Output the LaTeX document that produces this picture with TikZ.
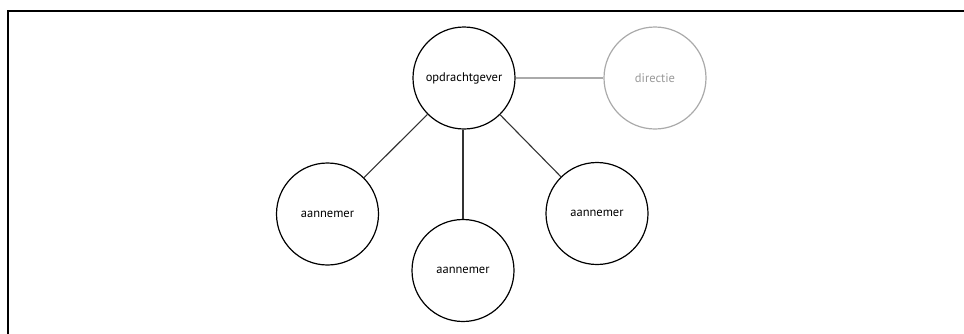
\documentclass[tikz,border=0pt]{standalone}
\usepackage{fontspec}
\setmainfont{PT Sans}
\definecolor{lightgrey}{HTML}{AAAAAA}
\definecolor{textgrey}{HTML}{999999}
\definecolor{linedark}{HTML}{333333}
\begin{document}
\begin{tikzpicture}[x=1pt,y=-1pt,
  party/.style={circle,draw=black,line width=1.2pt,minimum size=102pt,inner sep=0pt,font=\fontsize{12.5}{14}\selectfont},
  partygrey/.style={party,draw=lightgrey,text=textgrey},
  link/.style={draw=linedark,line width=1.1pt},
  linkgrey/.style={draw=lightgrey,line width=1.1pt},
  frame/.style={draw=black,line width=2pt}]
\useasboundingbox (0,0) rectangle (964,333);
\coordinate (fbl) at (7.5,334);
\coordinate (ftl) at (7.5,10.5);
\coordinate (ftr) at (965,10.5);
\draw[frame] (fbl) -- (ftl) -- (ftr);
\node[party] (opd) at (464,78) {opdrachtgever};
\node[partygrey] (dir) at (655,78) {directie};
\node[party] (a1) at (327.5,214) {aannemer};
\node[party] (a2) at (463,270.5) {aannemer};
\node[party] (a3) at (597,213.5) {aannemer};
\draw[linkgrey] (opd) -- (dir);
\draw[link] (opd) -- (a1);
\draw[link] (opd.south -| a2) -- (a2);
\draw[link] (opd) -- (a3);
\end{tikzpicture}
\end{document}
